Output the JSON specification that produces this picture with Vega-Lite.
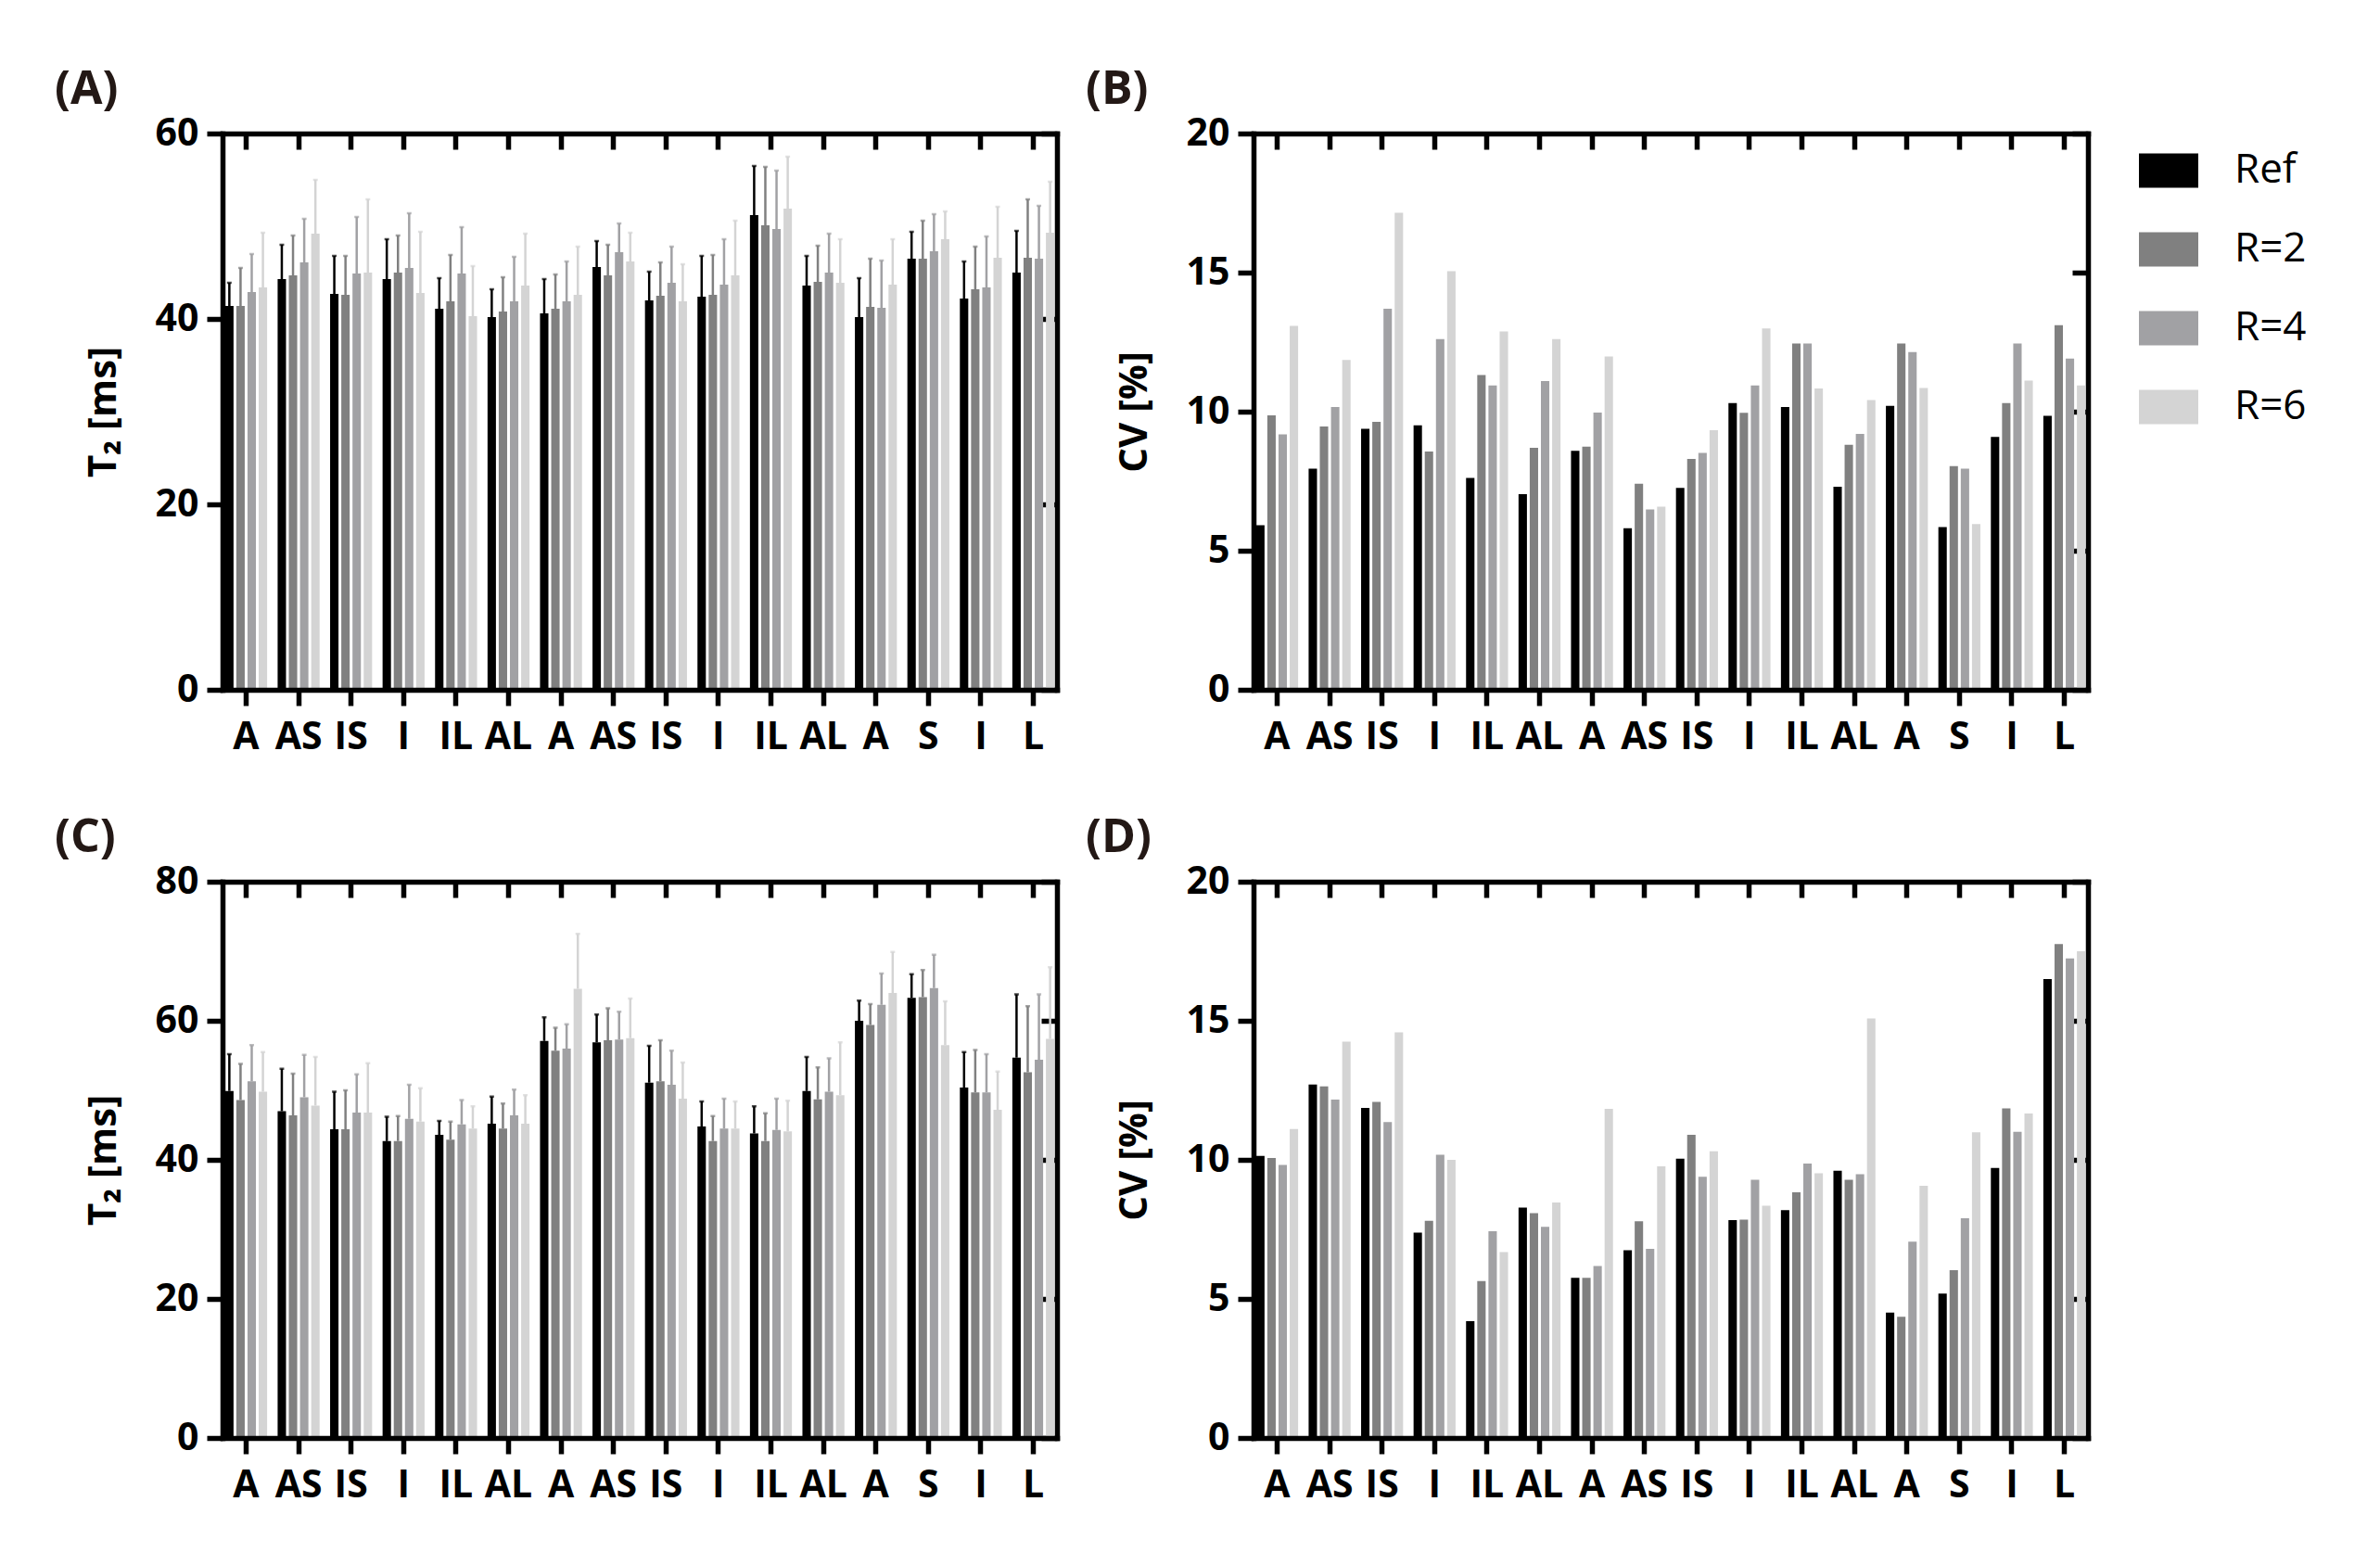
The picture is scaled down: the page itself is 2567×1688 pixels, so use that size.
{
  "$schema": "https://vega.github.io/schema/vega-lite/v6.json",
  "padding": {"left": 59, "top": 72, "right": 20, "bottom": 20},
  "background": "white",
  "bounds": "flush",
  "columns": 2,
  "spacing": {"row": 207, "column": 212},
  "resolve": {"legend": {"color": "independent"}},
  "datasets": {
    "A": [
      {"s":1,"g":"Ref","v":41.4,"e":43.9},{"s":1,"g":"R=2","v":41.4,"e":45.5},{"s":1,"g":"R=4","v":42.9,"e":47.0},{"s":1,"g":"R=6","v":43.4,"e":49.3},
      {"s":2,"g":"Ref","v":44.3,"e":48.0},{"s":2,"g":"R=2","v":44.7,"e":49.0},{"s":2,"g":"R=4","v":46.1,"e":50.8},{"s":2,"g":"R=6","v":49.2,"e":55.0},
      {"s":3,"g":"Ref","v":42.7,"e":46.8},{"s":3,"g":"R=2","v":42.6,"e":46.8},{"s":3,"g":"R=4","v":44.9,"e":51.0},{"s":3,"g":"R=6","v":45.0,"e":52.9},
      {"s":4,"g":"Ref","v":44.3,"e":48.6},{"s":4,"g":"R=2","v":45.0,"e":49.0},{"s":4,"g":"R=4","v":45.5,"e":51.4},{"s":4,"g":"R=6","v":42.8,"e":49.4},
      {"s":5,"g":"Ref","v":41.1,"e":44.4},{"s":5,"g":"R=2","v":41.9,"e":46.9},{"s":5,"g":"R=4","v":44.9,"e":49.9},{"s":5,"g":"R=6","v":40.3,"e":45.7},
      {"s":6,"g":"Ref","v":40.2,"e":43.2},{"s":6,"g":"R=2","v":40.8,"e":44.5},{"s":6,"g":"R=4","v":41.9,"e":46.7},{"s":6,"g":"R=6","v":43.6,"e":49.2},
      {"s":7,"g":"Ref","v":40.6,"e":44.3},{"s":7,"g":"R=2","v":41.1,"e":44.8},{"s":7,"g":"R=4","v":41.9,"e":46.2},{"s":7,"g":"R=6","v":42.6,"e":47.8},
      {"s":8,"g":"Ref","v":45.6,"e":48.4},{"s":8,"g":"R=2","v":44.7,"e":48.0},{"s":8,"g":"R=4","v":47.2,"e":50.3},{"s":8,"g":"R=6","v":46.2,"e":49.3},
      {"s":9,"g":"Ref","v":42.0,"e":45.1},{"s":9,"g":"R=2","v":42.5,"e":46.1},{"s":9,"g":"R=4","v":43.9,"e":47.8},{"s":9,"g":"R=6","v":41.9,"e":45.9},
      {"s":10,"g":"Ref","v":42.4,"e":46.8},{"s":10,"g":"R=2","v":42.6,"e":46.9},{"s":10,"g":"R=4","v":43.7,"e":48.6},{"s":10,"g":"R=6","v":44.7,"e":50.6},
      {"s":11,"g":"Ref","v":51.2,"e":56.5},{"s":11,"g":"R=2","v":50.1,"e":56.4},{"s":11,"g":"R=4","v":49.7,"e":56.0},{"s":11,"g":"R=6","v":51.9,"e":57.5},
      {"s":12,"g":"Ref","v":43.6,"e":46.8},{"s":12,"g":"R=2","v":44.0,"e":47.9},{"s":12,"g":"R=4","v":45.0,"e":49.2},{"s":12,"g":"R=6","v":43.9,"e":48.6},
      {"s":13,"g":"Ref","v":40.2,"e":44.4},{"s":13,"g":"R=2","v":41.3,"e":46.5},{"s":13,"g":"R=4","v":41.2,"e":46.3},{"s":13,"g":"R=6","v":43.7,"e":48.6},
      {"s":14,"g":"Ref","v":46.5,"e":49.4},{"s":14,"g":"R=2","v":46.5,"e":50.6},{"s":14,"g":"R=4","v":47.3,"e":51.3},{"s":14,"g":"R=6","v":48.6,"e":51.6},
      {"s":15,"g":"Ref","v":42.2,"e":46.2},{"s":15,"g":"R=2","v":43.2,"e":47.8},{"s":15,"g":"R=4","v":43.4,"e":48.9},{"s":15,"g":"R=6","v":46.6,"e":52.1},
      {"s":16,"g":"Ref","v":45.0,"e":49.5},{"s":16,"g":"R=2","v":46.6,"e":52.9},{"s":16,"g":"R=4","v":46.5,"e":52.2},{"s":16,"g":"R=6","v":49.3,"e":54.8}
    ],
    "B": [
      {"s":1,"g":"Ref","v":5.92},{"s":1,"g":"R=2","v":9.87},{"s":1,"g":"R=4","v":9.18},{"s":1,"g":"R=6","v":13.08},
      {"s":2,"g":"Ref","v":7.95},{"s":2,"g":"R=2","v":9.47},{"s":2,"g":"R=4","v":10.17},{"s":2,"g":"R=6","v":11.86},
      {"s":3,"g":"Ref","v":9.38},{"s":3,"g":"R=2","v":9.63},{"s":3,"g":"R=4","v":13.70},{"s":3,"g":"R=6","v":17.15},
      {"s":4,"g":"Ref","v":9.51},{"s":4,"g":"R=2","v":8.57},{"s":4,"g":"R=4","v":12.61},{"s":4,"g":"R=6","v":15.05},
      {"s":5,"g":"Ref","v":7.62},{"s":5,"g":"R=2","v":11.32},{"s":5,"g":"R=4","v":10.94},{"s":5,"g":"R=6","v":12.88},
      {"s":6,"g":"Ref","v":7.03},{"s":6,"g":"R=2","v":8.70},{"s":6,"g":"R=4","v":11.10},{"s":6,"g":"R=6","v":12.61},
      {"s":7,"g":"Ref","v":8.59},{"s":7,"g":"R=2","v":8.74},{"s":7,"g":"R=4","v":9.97},{"s":7,"g":"R=6","v":11.98},
      {"s":8,"g":"Ref","v":5.81},{"s":8,"g":"R=2","v":7.41},{"s":8,"g":"R=4","v":6.48},{"s":8,"g":"R=6","v":6.58},
      {"s":9,"g":"Ref","v":7.26},{"s":9,"g":"R=2","v":8.30},{"s":9,"g":"R=4","v":8.52},{"s":9,"g":"R=6","v":9.33},
      {"s":10,"g":"Ref","v":10.31},{"s":10,"g":"R=2","v":9.96},{"s":10,"g":"R=4","v":10.94},{"s":10,"g":"R=6","v":12.99},
      {"s":11,"g":"Ref","v":10.17},{"s":11,"g":"R=2","v":12.45},{"s":11,"g":"R=4","v":12.45},{"s":11,"g":"R=6","v":10.83},
      {"s":12,"g":"Ref","v":7.30},{"s":12,"g":"R=2","v":8.81},{"s":12,"g":"R=4","v":9.20},{"s":12,"g":"R=6","v":10.42},
      {"s":13,"g":"Ref","v":10.21},{"s":13,"g":"R=2","v":12.45},{"s":13,"g":"R=4","v":12.14},{"s":13,"g":"R=6","v":10.85},
      {"s":14,"g":"Ref","v":5.85},{"s":14,"g":"R=2","v":8.04},{"s":14,"g":"R=4","v":7.95},{"s":14,"g":"R=6","v":5.96},
      {"s":15,"g":"Ref","v":9.09},{"s":15,"g":"R=2","v":10.31},{"s":15,"g":"R=4","v":12.45},{"s":15,"g":"R=6","v":11.12},
      {"s":16,"g":"Ref","v":9.85},{"s":16,"g":"R=2","v":13.11},{"s":16,"g":"R=4","v":11.91},{"s":16,"g":"R=6","v":10.94}
    ],
    "C": [
      {"s":1,"g":"Ref","v":49.9,"e":55.2},{"s":1,"g":"R=2","v":48.6,"e":53.8},{"s":1,"g":"R=4","v":51.3,"e":56.5},{"s":1,"g":"R=6","v":49.8,"e":55.5},
      {"s":2,"g":"Ref","v":47.0,"e":53.1},{"s":2,"g":"R=2","v":46.4,"e":52.4},{"s":2,"g":"R=4","v":49.0,"e":55.1},{"s":2,"g":"R=6","v":47.8,"e":54.8},
      {"s":3,"g":"Ref","v":44.4,"e":49.8},{"s":3,"g":"R=2","v":44.4,"e":50.0},{"s":3,"g":"R=4","v":46.8,"e":52.3},{"s":3,"g":"R=6","v":46.8,"e":53.9},
      {"s":4,"g":"Ref","v":42.7,"e":46.2},{"s":4,"g":"R=2","v":42.7,"e":46.3},{"s":4,"g":"R=4","v":45.9,"e":50.8},{"s":4,"g":"R=6","v":45.5,"e":50.3},
      {"s":5,"g":"Ref","v":43.6,"e":45.6},{"s":5,"g":"R=2","v":42.9,"e":45.5},{"s":5,"g":"R=4","v":45.1,"e":48.6},{"s":5,"g":"R=6","v":44.5,"e":47.7},
      {"s":6,"g":"Ref","v":45.2,"e":49.1},{"s":6,"g":"R=2","v":44.5,"e":48.1},{"s":6,"g":"R=4","v":46.4,"e":50.1},{"s":6,"g":"R=6","v":45.2,"e":49.3},
      {"s":7,"g":"Ref","v":57.1,"e":60.5},{"s":7,"g":"R=2","v":55.7,"e":59.0},{"s":7,"g":"R=4","v":56.0,"e":59.5},{"s":7,"g":"R=6","v":64.6,"e":72.5},
      {"s":8,"g":"Ref","v":56.9,"e":60.9},{"s":8,"g":"R=2","v":57.2,"e":61.8},{"s":8,"g":"R=4","v":57.3,"e":61.3},{"s":8,"g":"R=6","v":57.5,"e":63.2},
      {"s":9,"g":"Ref","v":51.1,"e":56.4},{"s":9,"g":"R=2","v":51.3,"e":57.2},{"s":9,"g":"R=4","v":50.8,"e":55.7},{"s":9,"g":"R=6","v":48.8,"e":54.0},
      {"s":10,"g":"Ref","v":44.8,"e":48.4},{"s":10,"g":"R=2","v":42.7,"e":46.3},{"s":10,"g":"R=4","v":44.5,"e":48.8},{"s":10,"g":"R=6","v":44.5,"e":48.4},
      {"s":11,"g":"Ref","v":43.8,"e":47.7},{"s":11,"g":"R=2","v":42.7,"e":46.7},{"s":11,"g":"R=4","v":44.3,"e":48.8},{"s":11,"g":"R=6","v":44.1,"e":48.5},
      {"s":12,"g":"Ref","v":49.9,"e":54.8},{"s":12,"g":"R=2","v":48.7,"e":53.3},{"s":12,"g":"R=4","v":49.8,"e":54.6},{"s":12,"g":"R=6","v":49.3,"e":56.9},
      {"s":13,"g":"Ref","v":60.0,"e":62.9},{"s":13,"g":"R=2","v":59.4,"e":62.4},{"s":13,"g":"R=4","v":62.3,"e":66.8},{"s":13,"g":"R=6","v":64.0,"e":69.9},
      {"s":14,"g":"Ref","v":63.3,"e":66.7},{"s":14,"g":"R=2","v":63.4,"e":67.3},{"s":14,"g":"R=4","v":64.7,"e":69.5},{"s":14,"g":"R=6","v":56.5,"e":62.8},
      {"s":15,"g":"Ref","v":50.4,"e":55.5},{"s":15,"g":"R=2","v":49.7,"e":55.8},{"s":15,"g":"R=4","v":49.7,"e":55.2},{"s":15,"g":"R=6","v":47.2,"e":52.7},
      {"s":16,"g":"Ref","v":54.7,"e":63.8},{"s":16,"g":"R=2","v":52.6,"e":62.1},{"s":16,"g":"R=4","v":54.4,"e":63.8},{"s":16,"g":"R=6","v":57.4,"e":67.7}
    ],
    "D": [
      {"s":1,"g":"Ref","v":10.14},{"s":1,"g":"R=2","v":10.07},{"s":1,"g":"R=4","v":9.82},{"s":1,"g":"R=6","v":11.11},
      {"s":2,"g":"Ref","v":12.71},{"s":2,"g":"R=2","v":12.64},{"s":2,"g":"R=4","v":12.17},{"s":2,"g":"R=6","v":14.25},
      {"s":3,"g":"Ref","v":11.87},{"s":3,"g":"R=2","v":12.08},{"s":3,"g":"R=4","v":11.36},{"s":3,"g":"R=6","v":14.58},
      {"s":4,"g":"Ref","v":7.38},{"s":4,"g":"R=2","v":7.81},{"s":4,"g":"R=4","v":10.18},{"s":4,"g":"R=6","v":10.0},
      {"s":5,"g":"Ref","v":4.20},{"s":5,"g":"R=2","v":5.64},{"s":5,"g":"R=4","v":7.43},{"s":5,"g":"R=6","v":6.68},
      {"s":6,"g":"Ref","v":8.28},{"s":6,"g":"R=2","v":8.08},{"s":6,"g":"R=4","v":7.59},{"s":6,"g":"R=6","v":8.47},
      {"s":7,"g":"Ref","v":5.76},{"s":7,"g":"R=2","v":5.76},{"s":7,"g":"R=4","v":6.18},{"s":7,"g":"R=6","v":11.83},
      {"s":8,"g":"Ref","v":6.75},{"s":8,"g":"R=2","v":7.79},{"s":8,"g":"R=4","v":6.80},{"s":8,"g":"R=6","v":9.77},
      {"s":9,"g":"Ref","v":10.04},{"s":9,"g":"R=2","v":10.90},{"s":9,"g":"R=4","v":9.39},{"s":9,"g":"R=6","v":10.31},
      {"s":10,"g":"Ref","v":7.83},{"s":10,"g":"R=2","v":7.85},{"s":10,"g":"R=4","v":9.28},{"s":10,"g":"R=6","v":8.35},
      {"s":11,"g":"Ref","v":8.19},{"s":11,"g":"R=2","v":8.83},{"s":11,"g":"R=4","v":9.87},{"s":11,"g":"R=6","v":9.52},
      {"s":12,"g":"Ref","v":9.61},{"s":12,"g":"R=2","v":9.28},{"s":12,"g":"R=4","v":9.48},{"s":12,"g":"R=6","v":15.08},
      {"s":13,"g":"Ref","v":4.51},{"s":13,"g":"R=2","v":4.36},{"s":13,"g":"R=4","v":7.06},{"s":13,"g":"R=6","v":9.07},
      {"s":14,"g":"Ref","v":5.19},{"s":14,"g":"R=2","v":6.03},{"s":14,"g":"R=4","v":7.90},{"s":14,"g":"R=6","v":10.99},
      {"s":15,"g":"Ref","v":9.71},{"s":15,"g":"R=2","v":11.85},{"s":15,"g":"R=4","v":11.01},{"s":15,"g":"R=6","v":11.67},
      {"s":16,"g":"Ref","v":16.50},{"s":16,"g":"R=2","v":17.76},{"s":16,"g":"R=4","v":17.24},{"s":16,"g":"R=6","v":17.50}
    ]
  },
  "concat": [
    {
      "width": 900, "height": 600,
      "data": {"name": "A"},
      "title": {"text": "(A)", "anchor": "start", "frame": "group", "dx": -181, "offset": 1, "fontSize": 50, "font": "Open Sans", "fontWeight": "bold", "color": "#231815"},
      "layer": [
        {"mark": {"type": "bar"},
         "encoding": {
           "x": {"field": "s", "type": "ordinal", "scale": {"paddingInner": 0.2, "paddingOuter": 0.05},
                 "axis": {"orient": "bottom", "title": null, "zindex": 1, "labelExpr": "['A','AS','IS','I','IL','AL','A','AS','IS','I','IL','AL','A','S','I','L'][datum.value-1]"}},
           "xOffset": {"field": "g", "type": "nominal", "scale": {"domain": ["Ref","R=2","R=4","R=6"], "paddingInner": 0.25, "paddingOuter": 0}},
           "y": {"field": "v", "type": "quantitative", "scale": {"domain": [0, 60]},
                 "axis": {"orient": "left", "values": [0,20,40,60], "title": "T₂ [ms]", "zindex": 1}},
           "color": {"field": "g", "type": "nominal", "scale": {"domain": ["Ref","R=2","R=4","R=6"], "range": ["#000000","#808080","#a1a1a4","#d4d4d4"]}, "legend": null}
         }},
        {"mark": {"type": "rule", "strokeWidth": 2.5},
         "encoding": {
           "x": {"field": "s", "type": "ordinal", "axis": {"orient": "top", "title": null, "labels": false, "tickSize": -17, "zindex": 0}},
           "xOffset": {"field": "g", "type": "nominal"},
           "y": {"field": "v", "type": "quantitative", "axis": {"orient": "right", "title": null, "labels": false, "tickSize": -17, "values": [0,20,40,60], "zindex": 0}},
           "y2": {"field": "e"},
           "color": {"field": "g", "type": "nominal", "legend": null}
         }},
        {"mark": {"type": "tick", "thickness": 2.5, "size": 5, "orient": "horizontal"},
         "encoding": {
           "x": {"field": "s", "type": "ordinal", "axis": null},
           "xOffset": {"field": "g", "type": "nominal"},
           "y": {"field": "e", "type": "quantitative", "axis": null},
           "color": {"field": "g", "type": "nominal", "legend": null}
         }}
      ],
      "resolve": {"axis": {"x": "independent", "y": "independent"}}
    },
    {
      "width": 900, "height": 600,
      "data": {"name": "B"},
      "title": {"text": "(B)", "anchor": "start", "frame": "group", "dx": -181, "offset": 1, "fontSize": 50, "font": "Open Sans", "fontWeight": "bold", "color": "#231815"},
      "layer": [
        {"mark": {"type": "bar"},
         "encoding": {
           "x": {"field": "s", "type": "ordinal", "scale": {"paddingInner": 0.2, "paddingOuter": 0.05},
                 "axis": {"orient": "bottom", "title": null, "zindex": 1, "labelExpr": "['A','AS','IS','I','IL','AL','A','AS','IS','I','IL','AL','A','S','I','L'][datum.value-1]"}},
           "xOffset": {"field": "g", "type": "nominal", "scale": {"domain": ["Ref","R=2","R=4","R=6"], "paddingInner": 0.25, "paddingOuter": 0}},
           "y": {"field": "v", "type": "quantitative", "scale": {"domain": [0, 20]},
                 "axis": {"orient": "left", "values": [0,5,10,15,20], "title": "CV [%]", "zindex": 1}},
           "color": {"field": "g", "type": "nominal", "scale": {"domain": ["Ref","R=2","R=4","R=6"], "range": ["#000000","#808080","#a1a1a4","#d4d4d4"]},
                     "legend": {"orient": "none", "legendX": 955, "legendY": 8, "padding": 0, "title": null, "symbolType": "M-1,-0.578H1V0.578H-1Z", "symbolSize": 4096, "symbolStrokeWidth": 0, "labelFont": "Open Sans", "labelFontSize": 44, "labelFontWeight": "normal", "labelColor": "black", "labelOffset": 39, "rowPadding": 31}}
         }},
        {"mark": {"type": "bar", "opacity": 0},
         "encoding": {
           "x": {"field": "s", "type": "ordinal", "axis": {"orient": "top", "title": null, "labels": false, "tickSize": -17, "zindex": 0}},
           "xOffset": {"field": "g", "type": "nominal"},
           "y": {"field": "v", "type": "quantitative", "axis": {"orient": "right", "title": null, "labels": false, "tickSize": -17, "values": [0,5,10,15,20], "zindex": 0}}
         }}
      ],
      "resolve": {"axis": {"x": "independent", "y": "independent"}}
    },
    {
      "width": 900, "height": 600,
      "data": {"name": "C"},
      "title": {"text": "(C)", "anchor": "start", "frame": "group", "dx": -181, "offset": 1, "fontSize": 50, "font": "Open Sans", "fontWeight": "bold", "color": "#231815"},
      "layer": [
        {"mark": {"type": "bar"},
         "encoding": {
           "x": {"field": "s", "type": "ordinal", "scale": {"paddingInner": 0.2, "paddingOuter": 0.05},
                 "axis": {"orient": "bottom", "title": null, "zindex": 1, "labelExpr": "['A','AS','IS','I','IL','AL','A','AS','IS','I','IL','AL','A','S','I','L'][datum.value-1]"}},
           "xOffset": {"field": "g", "type": "nominal", "scale": {"domain": ["Ref","R=2","R=4","R=6"], "paddingInner": 0.25, "paddingOuter": 0}},
           "y": {"field": "v", "type": "quantitative", "scale": {"domain": [0, 80]},
                 "axis": {"orient": "left", "values": [0,20,40,60,80], "title": "T₂ [ms]", "zindex": 1}},
           "color": {"field": "g", "type": "nominal", "scale": {"domain": ["Ref","R=2","R=4","R=6"], "range": ["#000000","#808080","#a1a1a4","#d4d4d4"]}, "legend": null}
         }},
        {"mark": {"type": "rule", "strokeWidth": 2.5},
         "encoding": {
           "x": {"field": "s", "type": "ordinal", "axis": {"orient": "top", "title": null, "labels": false, "tickSize": -17, "zindex": 0}},
           "xOffset": {"field": "g", "type": "nominal"},
           "y": {"field": "v", "type": "quantitative", "axis": {"orient": "right", "title": null, "labels": false, "tickSize": -17, "values": [0,20,40,60,80], "zindex": 0}},
           "y2": {"field": "e"},
           "color": {"field": "g", "type": "nominal", "legend": null}
         }},
        {"mark": {"type": "tick", "thickness": 2.5, "size": 5, "orient": "horizontal"},
         "encoding": {
           "x": {"field": "s", "type": "ordinal", "axis": null},
           "xOffset": {"field": "g", "type": "nominal"},
           "y": {"field": "e", "type": "quantitative", "axis": null},
           "color": {"field": "g", "type": "nominal", "legend": null}
         }}
      ],
      "resolve": {"axis": {"x": "independent", "y": "independent"}}
    },
    {
      "width": 900, "height": 600,
      "data": {"name": "D"},
      "title": {"text": "(D)", "anchor": "start", "frame": "group", "dx": -181, "offset": 1, "fontSize": 50, "font": "Open Sans", "fontWeight": "bold", "color": "#231815"},
      "layer": [
        {"mark": {"type": "bar"},
         "encoding": {
           "x": {"field": "s", "type": "ordinal", "scale": {"paddingInner": 0.2, "paddingOuter": 0.05},
                 "axis": {"orient": "bottom", "title": null, "zindex": 1, "labelExpr": "['A','AS','IS','I','IL','AL','A','AS','IS','I','IL','AL','A','S','I','L'][datum.value-1]"}},
           "xOffset": {"field": "g", "type": "nominal", "scale": {"domain": ["Ref","R=2","R=4","R=6"], "paddingInner": 0.25, "paddingOuter": 0}},
           "y": {"field": "v", "type": "quantitative", "scale": {"domain": [0, 20]},
                 "axis": {"orient": "left", "values": [0,5,10,15,20], "title": "CV [%]", "zindex": 1}},
           "color": {"field": "g", "type": "nominal", "scale": {"domain": ["Ref","R=2","R=4","R=6"], "range": ["#000000","#808080","#a1a1a4","#d4d4d4"]}, "legend": null}
         }},
        {"mark": {"type": "bar", "opacity": 0},
         "encoding": {
           "x": {"field": "s", "type": "ordinal", "axis": {"orient": "top", "title": null, "labels": false, "tickSize": -17, "zindex": 0}},
           "xOffset": {"field": "g", "type": "nominal"},
           "y": {"field": "v", "type": "quantitative", "axis": {"orient": "right", "title": null, "labels": false, "tickSize": -17, "values": [0,5,10,15,20], "zindex": 0}}
         }}
      ],
      "resolve": {"axis": {"x": "independent", "y": "independent"}}
    }
  ],
  "config": {
    "view": {"stroke": null},
    "font": "Open Sans",
    "axis": {
      "grid": false,
      "domainColor": "black", "domainWidth": 5.5, "domainCap": "square",
      "tickColor": "black", "tickWidth": 5.5, "tickSize": 17,
      "labelFont": "Open Sans", "labelFontWeight": "bold", "labelFontSize": 41, "labelColor": "black", "labelPadding": 9,
      "titleFont": "Open Sans", "titleFontWeight": "bold", "titleFontSize": 42, "titleColor": "black", "titlePadding": 34
    },
    "axisX": {"labelAngle": 0, "labelPadding": 14}
  }
}
